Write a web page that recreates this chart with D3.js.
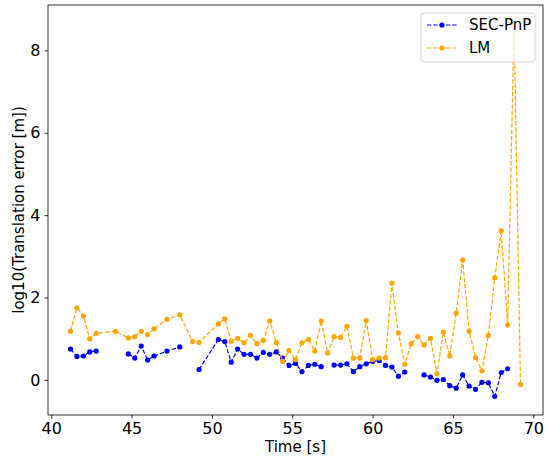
<!DOCTYPE html>
<html>
<head>
<meta charset="utf-8">
<script src="https://cdn.jsdelivr.net/npm/d3@7"></script>
<style>
  body { margin: 0; background: #fff; }
  svg text { font-family: "DejaVu Sans", sans-serif; }
</style>
</head>
<body>
<svg class="chart" width="552" height="458"></svg>
<script>
// shared time stamps [s]
const times = [41.2, 41.6, 42.0, 42.4, 42.8, 44.0, 44.8, 45.2, 45.6, 46.0, 46.4, 47.2, 48.0, 48.8, 49.2,
    50.4, 50.8, 51.2, 51.6, 52.0, 52.4, 52.8, 53.2, 53.6, 54.0, 54.4, 54.8, 55.2, 55.6, 56.0, 56.4, 56.8,
    57.2, 57.6, 58.0, 58.4, 58.8, 59.2, 59.6, 60.0, 60.4, 60.8, 61.2, 61.6, 62.0, 62.4, 62.8, 63.2, 63.6,
    64.0, 64.4, 64.8, 65.2, 65.6, 66.0, 66.4, 66.8, 67.2, 67.6, 68.0, 68.4, 68.8, 69.2];

// SEC-PnP (null = no estimate)
const secPnp = [0.75, 0.57, 0.58, 0.68, 0.70, null, 0.63, 0.53, 0.82, 0.48, 0.58, 0.70, 0.80, null, 0.25,
    0.98, 0.93, 0.43, 0.75, 0.62, 0.62, 0.53, 0.67, 0.62, 0.68, 0.53, 0.35, 0.40, 0.20, 0.35, 0.38, 0.32,
    null, 0.36, 0.36, 0.39, 0.20, 0.32, 0.39, 0.45, 0.47, 0.35, 0.31, 0.09, 0.19, null, null, 0.12, 0.07,
    -0.01, 0.01, -0.14, -0.20, 0.12, -0.15, -0.23, -0.06, -0.07, -0.40, 0.18, 0.27, null, null];

// LM
const lm = [1.18, 1.75, 1.55, 1.00, 1.13, 1.18, 1.02, 1.05, 1.18, 1.10, 1.24, 1.47, 1.58, 0.93, 0.91,
    1.36, 1.48, 0.94, 1.01, 0.90, 1.08, 0.88, 0.96, 1.43, 0.91, 0.45, 0.71, 0.49, 0.90, 0.98, 0.70, 1.43,
    0.65, 1.05, 1.03, 1.30, 0.53, 0.53, 1.44, 0.49, 0.53, 0.54, 2.35, 1.14, 0.38, 0.88, 1.05, 0.85, 1.01,
    0.15, 1.16, 0.58, 1.62, 2.91, 1.18, 0.54, 0.22, 1.08, 2.48, 3.62, 1.33, 8.65, -0.11];

const xTicks = [40, 45, 50, 55, 60, 65, 70];
const yTicks = [0, 2, 4, 6, 8];

(function lineChart(){
    let svg = d3.select("svg.chart");
    let margin = {top: 5, right: 9, bottom: 43, left: 48};
    let width = svg.attr("width") - margin.left - margin.right;
    let height = svg.attr("height") - margin.top - margin.bottom;

    let series = [
        {name: "SEC-PnP", values: secPnp, color: "#0000ff"},
        {name: "LM", values: lm, color: "#ffa500"}
    ];

    // matplotlib-like 5% padding
    let xExt = d3.extent(times);
    let allY = secPnp.concat(lm).filter(v => v !== null);
    let yExt = d3.extent(allY);
    let xPad = (xExt[1] - xExt[0]) * 0.05, yPad = (yExt[1] - yExt[0]) * 0.05;

    let x = d3.scaleLinear().domain([xExt[0] - xPad, xExt[1] + xPad]).range([0, width]);
    let y = d3.scaleLinear().domain([yExt[0] - yPad, yExt[1] + yPad]).range([height, 0]);

    let g = svg.append("g").attr("transform", "translate(" + margin.left + "," + margin.top + ")");

    //axes
    let xAxis = g.append("g")
        .attr("transform", "translate(0," + height + ")")
        .call(d3.axisBottom(x).tickValues(xTicks).tickSize(3.5).tickPadding(4));
    let yAxis = g.append("g")
        .call(d3.axisLeft(y).tickValues(yTicks).tickSize(3.5).tickPadding(4));
    [xAxis, yAxis].forEach(a => {
        a.selectAll("text").style("font-size", "16px").attr("fill", "#000");
        a.selectAll("line").attr("stroke", "#000").attr("stroke-width", 0.8);
        a.select(".domain").remove();
    });

    // frame
    g.append("rect")
        .attr("width", width).attr("height", height)
        .attr("fill", "none").attr("stroke", "#000").attr("stroke-width", 0.8);

    // axis labels
    svg.append("text")
        .attr("x", margin.left + width / 2).attr("y", 452)
        .attr("text-anchor", "middle").style("font-size", "15px")
        .text("Time [s]");
    svg.append("text")
        .attr("transform", "translate(24," + (margin.top + height / 2) + ") rotate(-90)")
        .attr("text-anchor", "middle").style("font-size", "15px")
        .text("log10(Translation error [m])");

    let clip = g.append("clipPath").attr("id", "plotclip");
    clip.append("rect").attr("width", width).attr("height", height);
    let plot = g.append("g").attr("clip-path", "url(#plotclip)");

    let line = d3.line()
        .defined(d => d[1] !== null)
        .x(d => x(d[0]))
        .y(d => y(d[1]));

    series.forEach(s => {
        let pts = times.map((t, i) => [t, s.values[i]]);
        plot.append("path")
            .datum(pts)
            .attr("fill", "none")
            .attr("stroke", s.color)
            .attr("stroke-width", 1.2)
            .attr("stroke-dasharray", "4.4,1.9")
            .attr("d", line);
        plot.selectAll(".dot-" + s.name)
            .data(pts.filter(d => d[1] !== null))
            .enter()
            .append("circle")
            .attr("cx", d => x(d[0]))
            .attr("cy", d => y(d[1]))
            .attr("r", 2.6)
            .attr("fill", s.color);
    });

    // legend
    let lg = g.append("g").attr("transform", "translate(" + (width - 122) + ",8)");
    lg.append("rect")
        .attr("width", 114).attr("height", 49).attr("rx", 3)
        .attr("fill", "#fff").attr("fill-opacity", 0.8)
        .attr("stroke", "#ccc").attr("stroke-width", 0.8);
    series.forEach((s, i) => {
        let row = lg.append("g").attr("transform", "translate(0," + (12 + i * 23) + ")");
        row.append("line")
            .attr("x1", 6).attr("x2", 36)
            .attr("stroke", s.color).attr("stroke-width", 1.2)
            .attr("stroke-dasharray", "4.4,1.9");
        row.append("circle").attr("cx", 21).attr("r", 2.6).attr("fill", s.color);
        row.append("text")
            .attr("x", 48).attr("dy", "0.35em")
            .style("font-size", "15px")
            .text(s.name);
    });
})();
</script>
</body>
</html>
